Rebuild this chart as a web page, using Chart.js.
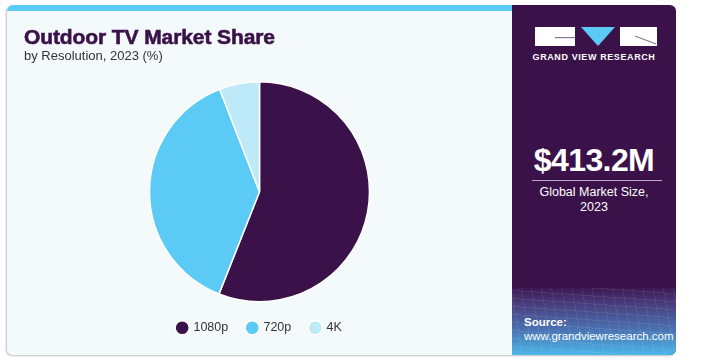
<!DOCTYPE html>
<html>
<head>
<meta charset="utf-8">
<script src="https://cdn.jsdelivr.net/npm/chart.js@4.4.1/dist/chart.umd.min.js"></script>
<style>
  html, body { margin:0; padding:0; background:#ffffff; width:702px; height:364px; overflow:hidden; }
  body { position:relative; font-family:"Liberation Sans", Arial, sans-serif; }
  #card { position:absolute; left:7px; top:5px; width:669px; height:350px; border-radius:6px;
          box-shadow: -1px 1px 2px rgba(0,0,0,0.25); background:#f4f9fc; overflow:hidden; }
  #strip { position:absolute; left:0; top:0; width:505px; height:6px; background:#5bcbf5; }
  #left { position:absolute; left:0; top:6px; width:505px; height:344px; background:#f4f9fc; }
  #right { position:absolute; left:505px; top:0; width:164px; height:350px; background:#3a1249; }
  #grad { position:absolute; left:0; top:283px; width:164px; height:67px;
          background:
            repeating-linear-gradient(80deg, rgba(255,255,255,0.07) 0 1px, transparent 1px 10px),
            repeating-linear-gradient(4deg, rgba(255,255,255,0.07) 0 1px, transparent 1px 8px),
            linear-gradient(180deg, #3c1a52 0%, #4a3f7e 25%, #4a6fae 60%, #4cb6e8 100%); }
  #title { position:absolute; left:17px; top:20px; font-size:21px; font-weight:bold; color:#3a1249;
           -webkit-text-stroke:0.6px #3a1249; letter-spacing:-0.1px; }
  #subtitle { position:absolute; left:17px; top:43px; font-size:13px; color:#333; }
  #chartbox { position:absolute; left:0; top:6px; width:505px; height:344px; }
  .wt { position:absolute; color:#fff; text-align:center; width:164px; left:0; }
  #big { top:137px; font-size:32px; font-weight:bold; letter-spacing:-0.6px; }
  #rule { position:absolute; left:20px; top:175px; width:130px; height:1px; background:#b9a9c7; }
  #gms { top:180px; font-size:12.5px; line-height:15px; }
  #logo { position:absolute; left:23px; top:22px; }
  #gvr { top:47px; font-size:9px; font-weight:bold; letter-spacing:0.6px; }
  #src { position:absolute; left:12px; top:310px; color:#fff; font-size:11.5px; line-height:14px; }
</style>
</head>
<body>
<div id="card">
  <div id="strip"></div>
  <div id="left"></div>
  <div id="chartbox"><canvas id="c" width="505" height="344"></canvas></div>
  <div id="title">Outdoor TV Market Share</div>
  <div id="subtitle">by Resolution, 2023 (%)</div>
  <div id="right">
    <div id="grad"></div>
    <svg id="logo" width="122" height="20" viewBox="0 0 122 20">
      <rect x="0" y="0" width="40" height="19" fill="#ffffff"/>
      <rect x="20" y="10" width="20" height="1.2" fill="#8a7a96"/>
      <polygon points="46,0 80,0 63,19" fill="#5bcbf5"/>
      <rect x="85" y="0" width="37" height="19" fill="#ffffff"/>
      <line x1="100" y1="9" x2="121" y2="17" stroke="#8a7a96" stroke-width="1.2"/>
    </svg>
    <div class="wt" id="gvr">GRAND VIEW RESEARCH</div>
    <div class="wt" id="big">$413.2M</div>
    <div id="rule"></div>
    <div class="wt" id="gms">Global Market Size,<br>2023</div>
    <div id="src"><b>Source:</b><br>www.grandviewresearch.com</div>
  </div>
</div>
<script>
const categories = ["1080p", "720p", "4K"];
const shares = [56.0, 38.1, 5.9];
const colors = ["#3a1249", "#5bcbf5", "#bde9f9"];

new Chart(document.getElementById("c"), {
  type: "pie",
  data: {
    labels: categories,
    datasets: [{
      data: shares,
      backgroundColor: colors,
      borderColor: "#ffffff",
      borderWidth: 1.5
    }]
  },
  options: {
    responsive: false,
    animation: false,
    layout: { padding: { top: 70, bottom: 11 } },
    plugins: {
      tooltip: { enabled: false },
      legend: {
        position: "bottom",
        labels: {
          usePointStyle: true,
          pointStyle: "circle",
          boxWidth: 10,
          boxHeight: 10,
          padding: 19,
          color: "#333333",
          font: { family: "Liberation Sans, Arial, sans-serif", size: 12.5 }
        }
      }
    }
  }
});
</script>
</body>
</html>
